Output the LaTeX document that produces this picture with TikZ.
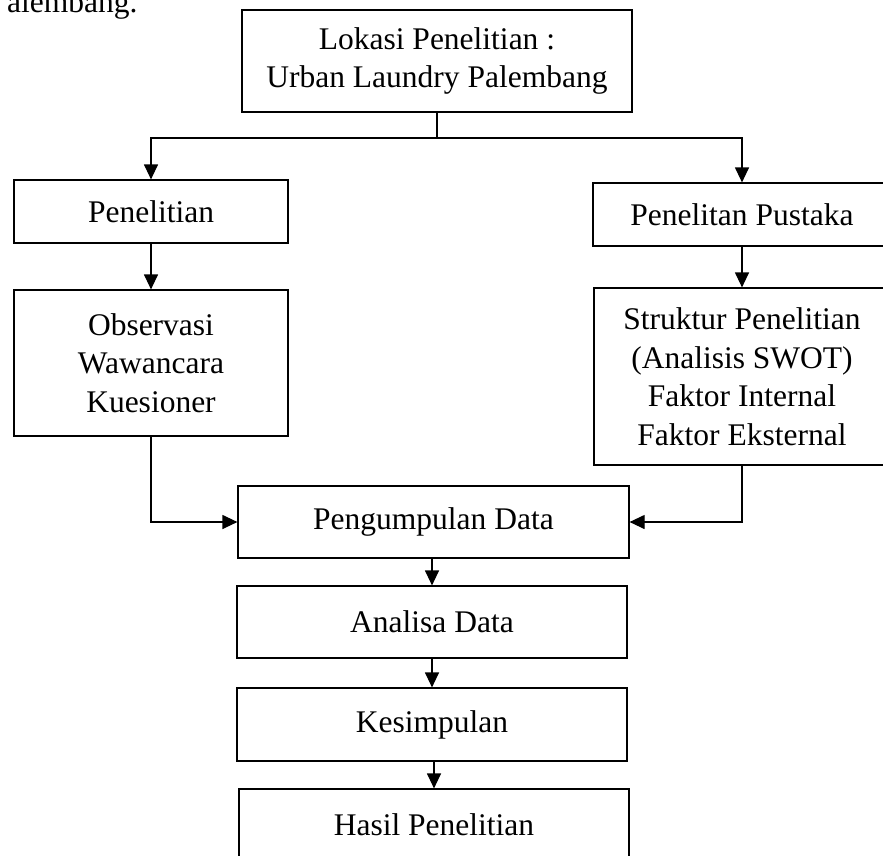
\documentclass[tikz,border=0pt]{standalone}
\usepackage{fontspec}
\setmainfont{Liberation Serif}
\usetikzlibrary{arrows.meta}
\begin{document}
\begin{tikzpicture}[x=1pt,y=-1pt,
  box/.style={draw, line width=1.2pt, rectangle, inner sep=0pt, align=center,
    font=\fontsize{31.5}{38.5}\selectfont},
  conn/.style={line width=1.2pt},
  arr/.style={line width=1.2pt, -{Triangle[length=15pt,width=14pt]}}]
\useasboundingbox (0,0) rectangle (883,855);
\clip (0,0) rectangle (883,855);
\node[anchor=base west, inner sep=0pt, font=\fontsize{31.5}{38.5}\selectfont] (cut) at (7,12) {alembang.};
\node[box, minimum width=390pt, minimum height=102pt] (top) at (437,61) {Lokasi Penelitian :\\Urban Laundry Palembang};
\node[box, minimum width=274pt, minimum height=63pt] (pen) at (151,211.5) {Penelitian};
\node[box, minimum width=298pt, minimum height=63pt] (pus) at (742,214.5) {Penelitan Pustaka};
\node[box, minimum width=274pt, minimum height=146pt] (obs) at (151,363) {Observasi\\Wawancara\\Kuesioner};
\node[box, minimum width=296pt, minimum height=177pt] (str) at (742,376.5) {Struktur Penelitian\\(Analisis SWOT)\\Faktor Internal\\Faktor Eksternal};
\node[box, minimum width=391pt, minimum height=72pt] (pd) at (433.5,522) {Pengumpulan Data};
\node[box, minimum width=390pt, minimum height=72pt] (ad) at (432,622) {Analisa Data};
\node[box, minimum width=390pt, minimum height=73pt] (kes) at (432,724.5) {Kesimpulan};
\node[box, minimum width=390pt, minimum height=72pt] (has) at (434,825) {Hasil Penelitian};
\coordinate (split) at (437,138);
\draw[conn] (top.south) -- (split);
\draw[arr] (split) -| (pen.north);
\draw[arr] (split) -| (pus.north);
\draw[arr] (pen.south) -- (obs.north);
\draw[arr] (pus.south) -- (str.north);
\draw[arr] (obs.south) |- (pd.west);
\draw[arr] (str.south) |- (pd.east);
\draw[arr] (pd.south -| ad.north) -- (ad.north);
\draw[arr] (ad.south) -- (kes.north);
\draw[arr] (kes.south -| has.north) -- (has.north);
\end{tikzpicture}
\end{document}
